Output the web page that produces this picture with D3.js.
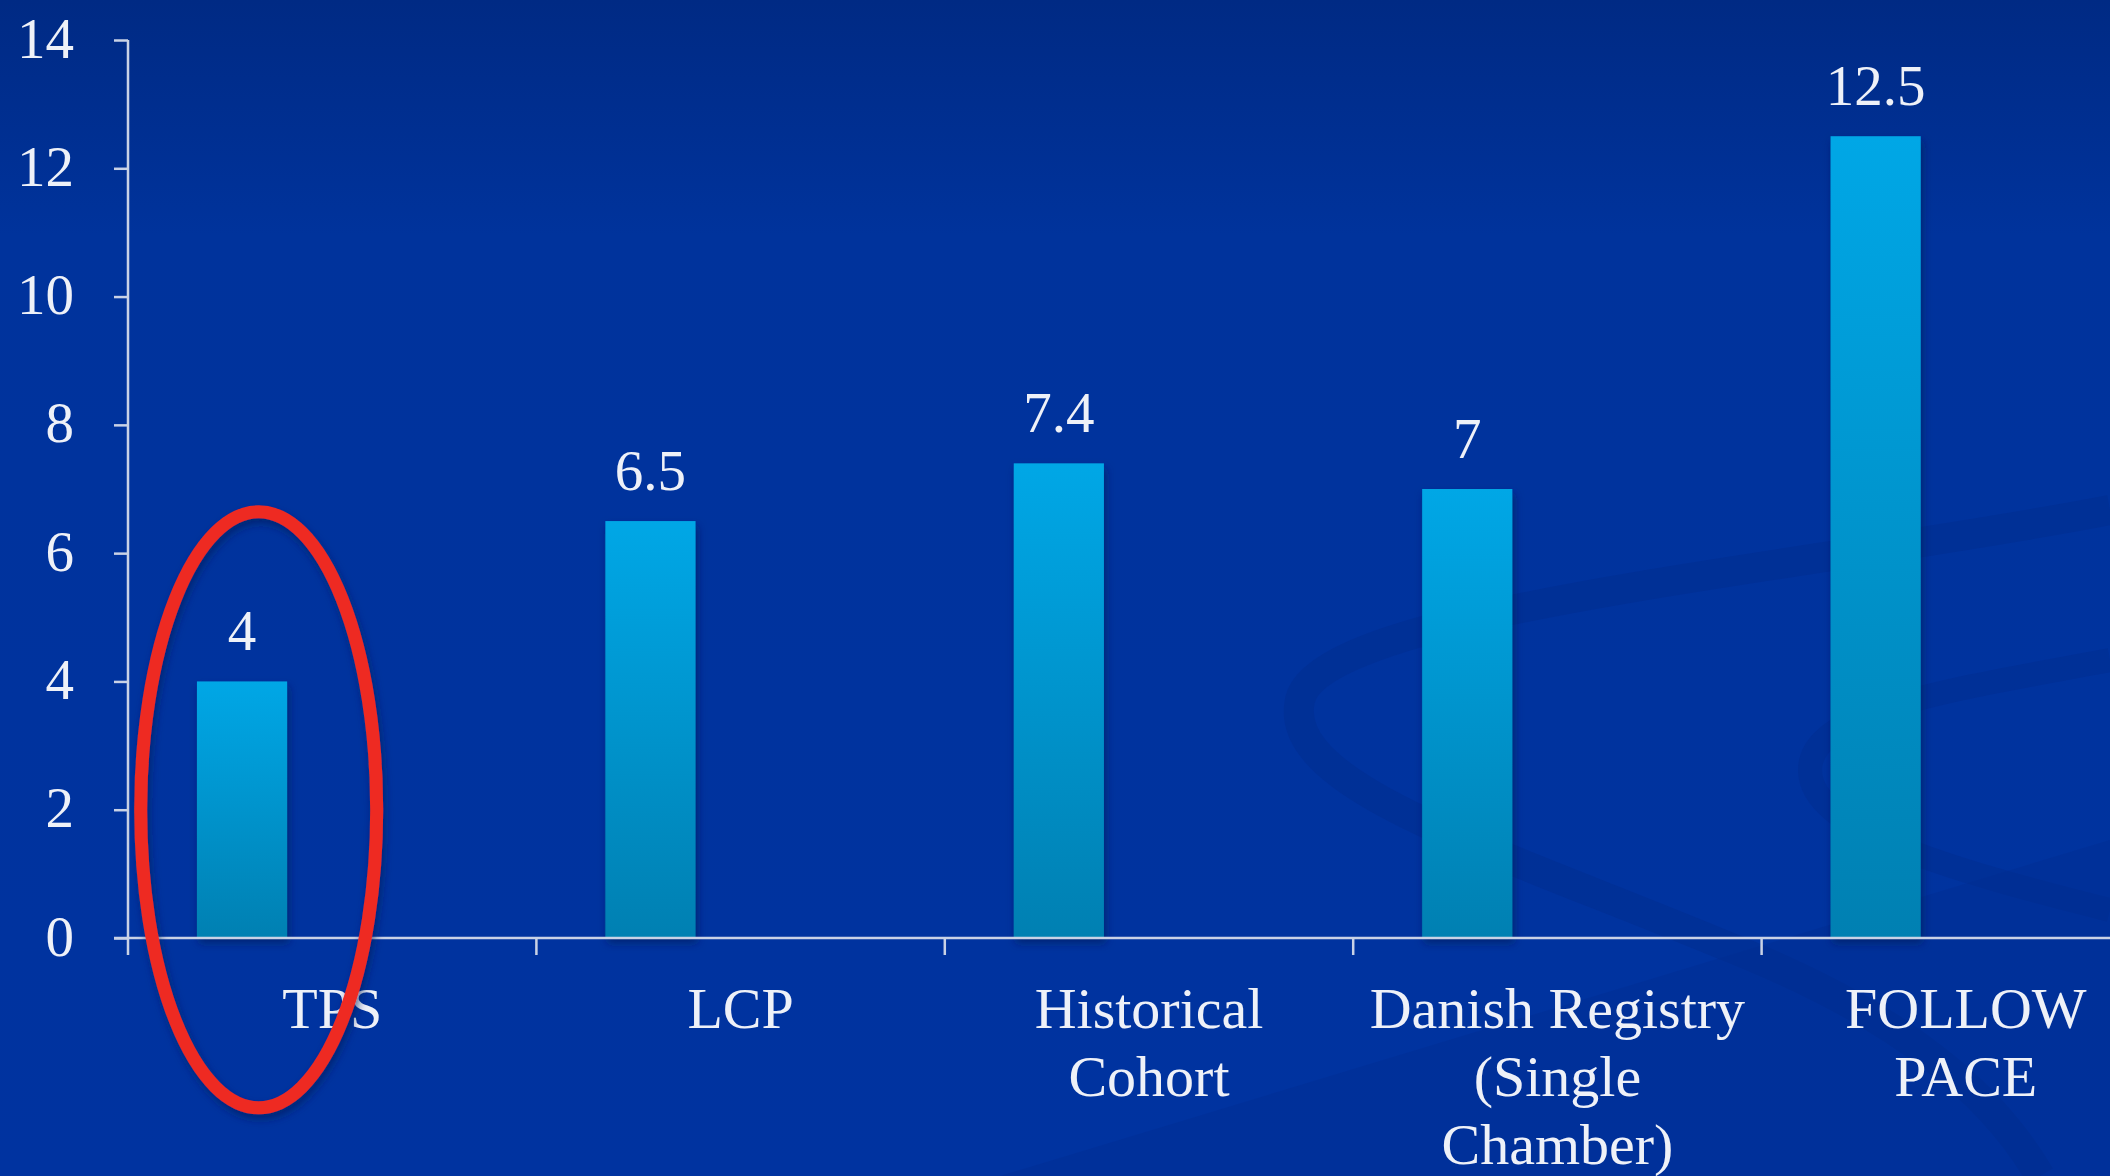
<html>
<head>
<meta charset="utf-8">
<style>
  body { margin: 0; background: #0033a0; overflow: hidden; }
  svg { display: block; }
  text { font-family: "Liberation Serif", "DejaVu Serif", serif; fill: #eef1f8; }
</style>
<script src="https://cdn.jsdelivr.net/npm/d3@7"></script>
</head>
<body>
<svg id="chart"></svg>
<script>
// data
const categories = ["TPS", "LCP", "Historical Cohort", "Danish Registry (Single Chamber)", "FOLLOW PACE"];
const labelLines = [["TPS"], ["LCP"], ["Historical", "Cohort"], ["Danish Registry", "(Single", "Chamber)"], ["FOLLOW", "PACE"]];
const values = [4, 6.5, 7.4, 7, 12.5];
const yTicks = [0, 2, 4, 6, 8, 10, 12, 14];
// the original was a clustered chart with three series slots, only the first filled
const seriesSlots = ["Series 1", "Series 2", "Series 3"];
const highlighted = "TPS";

const width = 2110, height = 1176;
const svg = d3.select("#chart").attr("width", width).attr("height", height);
const defs = svg.append("defs");

// background
const bg = defs.append("linearGradient").attr("id", "bg").attr("x1", 0).attr("y1", 0).attr("x2", 0).attr("y2", 1);
bg.append("stop").attr("offset", "0").attr("stop-color", "#002a84");
bg.append("stop").attr("offset", "0.2").attr("stop-color", "#00339c");
bg.append("stop").attr("offset", "1").attr("stop-color", "#0033a0");
svg.append("rect").attr("width", width).attr("height", height).attr("fill", "url(#bg)");

// template swirls
const deco = svg.append("g").attr("fill", "none").attr("stroke", "#002d8f");
deco.append("path")
  .attr("d", "M2110,510 C1800,570 1320,610 1300,700 C1280,790 1500,850 1760,960 C1900,1020 1990,1090 2040,1176")
  .attr("stroke-width", 30).attr("stroke-opacity", 0.55);
deco.append("path")
  .attr("d", "M2110,660 C1950,690 1810,710 1810,770 C1810,830 1950,870 2110,910")
  .attr("stroke-width", 24).attr("stroke-opacity", 0.45);
svg.append("path")
  .attr("d", "M1000,1176 L2110,840 L2110,1176 Z")
  .attr("fill", "#002d92").attr("opacity", 0.4);

const bar = defs.append("linearGradient").attr("id", "bar").attr("x1", 0).attr("y1", 0).attr("x2", 0).attr("y2", 1);
bar.append("stop").attr("offset", "0").attr("stop-color", "#00a7e6");
bar.append("stop").attr("offset", "1").attr("stop-color", "#0080b2");

const shadow = defs.append("filter").attr("id", "shadow").attr("x", "-20%").attr("y", "-20%").attr("width", "140%").attr("height", "140%");
shadow.append("feDropShadow").attr("dx", 2).attr("dy", 5).attr("stdDeviation", 4)
  .attr("flood-color", "#001a55").attr("flood-opacity", 0.6);

// scales
const x = d3.scaleBand().domain(categories).range([128, 2170]).paddingInner(0).paddingOuter(0);
const xInner = d3.scaleBand().domain(seriesSlots).range([0, x.bandwidth()]).paddingInner(0).paddingOuter(0.765);
const y = d3.scaleLinear().domain([0, 14]).range([938, 40]);

// bars
svg.append("g").selectAll("rect")
  .data(values)
  .join("rect")
  .attr("x", (d, i) => x(categories[i]) + xInner(seriesSlots[0]))
  .attr("y", d => y(d))
  .attr("width", xInner.bandwidth())
  .attr("height", d => y(0) - y(d))
  .attr("fill", "url(#bar)")
  .attr("filter", "url(#shadow)");

// value labels
svg.append("g").selectAll("text")
  .data(values)
  .join("text")
  .attr("x", (d, i) => x(categories[i]) + xInner(seriesSlots[0]) + xInner.bandwidth() / 2)
  .attr("y", d => y(d) - 31)
  .attr("text-anchor", "middle")
  .attr("font-size", 57)
  .text(d => d);

// axes
const axisColor = "#c9d2e6";
const yAxis = svg.append("g")
  .attr("transform", "translate(128,0)")
  .call(d3.axisLeft(y).tickValues(yTicks).tickSize(14).tickPadding(0).tickFormat(d3.format("d")));
yAxis.select(".domain").remove();
yAxis.selectAll(".tick line").attr("stroke", axisColor).attr("stroke-width", 2.5);
yAxis.selectAll(".tick text")
  .attr("x", -54).attr("dy", "0.3em")
  .attr("font-size", 57).attr("fill", "#eef1f8");
svg.append("line")
  .attr("x1", 128).attr("x2", 128).attr("y1", y(14)).attr("y2", y(0) + 17)
  .attr("stroke", axisColor).attr("stroke-width", 2.5);

const xAxis = svg.append("g")
  .attr("transform", `translate(0,${y(0)})`)
  .call(d3.axisBottom(x).tickSize(0).tickFormat(""));
xAxis.select(".domain").remove();
xAxis.selectAll(".tick line").remove();
svg.append("line")
  .attr("x1", 114).attr("x2", width).attr("y1", y(0)).attr("y2", y(0))
  .attr("stroke", axisColor).attr("stroke-width", 2.5);
svg.append("g").selectAll("line")
  .data(categories.slice(1))
  .join("line")
  .attr("x1", d => x(d)).attr("x2", d => x(d))
  .attr("y1", y(0)).attr("y2", y(0) + 17)
  .attr("stroke", axisColor).attr("stroke-width", 2.5);

// category labels
const catLabels = svg.append("g").selectAll("text")
  .data(categories)
  .join("text")
  .attr("text-anchor", "middle")
  .attr("font-size", 58)
  .attr("transform", d => `translate(${x(d) + x.bandwidth() / 2},${y(0) + 90})`);
catLabels.selectAll("tspan")
  .data((d, i) => labelLines[i])
  .join("tspan")
  .attr("x", 0)
  .attr("dy", (d, j) => j === 0 ? 0 : 68)
  .text(d => d);

// red highlight ellipse round the first study
svg.append("ellipse")
  .attr("cx", x(highlighted) + x.bandwidth() * 0.32)
  .attr("cy", y(2))
  .attr("rx", 118)
  .attr("ry", 298)
  .attr("fill", "none")
  .attr("stroke", "#ee2a24")
  .attr("stroke-width", 13)
  .attr("filter", "url(#shadow)");
</script>
</body>
</html>
